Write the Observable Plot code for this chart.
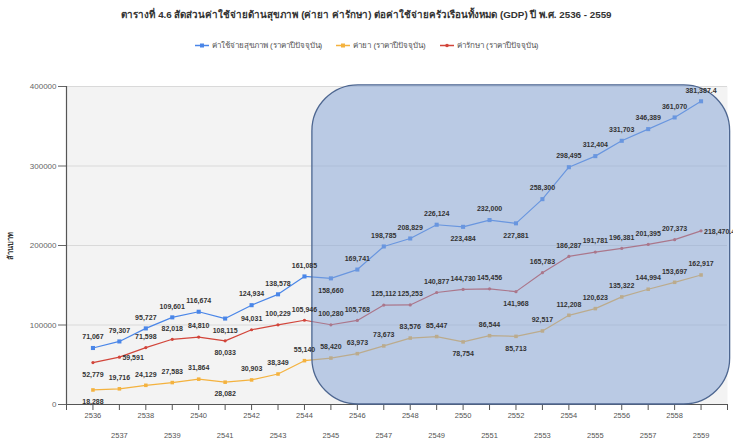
<!DOCTYPE html>
<html><head><meta charset="utf-8">
<script src="https://cdn.jsdelivr.net/npm/d3@7"></script>
<script src="https://cdn.jsdelivr.net/npm/@observablehq/plot@0.6"></script>
<style>
body{margin:0;background:#fff;font-family:"Liberation Sans",Arial,sans-serif;}
#title{height:30px;line-height:30px;text-align:center;font-weight:bold;font-size:9.8px;color:#333;white-space:nowrap;}
#legend{height:30px;display:flex;justify-content:center;align-items:center;gap:14px;font-size:8px;color:#555;}
#legend span{display:flex;align-items:center;gap:3px;}
#chart svg{display:block;}
</style></head><body>
<div id="title">ตารางที่ 4.6 สัดส่วนค่าใช้จ่ายด้านสุขภาพ (ค่ายา ค่ารักษา) ต่อค่าใช้จ่ายครัวเรือนทั้งหมด (GDP) ปี พ.ศ. 2536 - 2559</div>
<div id="legend"></div>
<div id="chart"></div>
<script>
const years = [2536,2537,2538,2539,2540,2541,2542,2543,2544,2545,2546,2547,2548,2549,2550,2551,2552,2553,2554,2555,2556,2557,2558,2559];
const totalHealth = [71067,79307,95727,109601,116674,108115,124934,138578,161085,158660,169741,198785,208829,226124,223484,232000,227881,258300,298495,312404,331703,346389,361070,381387.4];
const drugs = [18288,19716,24129,27583,31864,28082,30903,38349,55140,58420,63973,73673,83576,85447,78754,86544,85713,92517,112208,120623,135322,144994,153697,162917];
const treatment = [52779,59591,71598,82018,84810,80033,94031,100229,105946,100280,105768,125112,125253,140877,144730,145456,141968,165783,186287,191781,196381,201395,207373,218470.4];
const seriesNames = ["ค่าใช้จ่ายสุขภาพ (ราคาปีปัจจุบัน)","ค่ายา (ราคาปีปัจจุบัน)","ค่ารักษา (ราคาปีปัจจุบัน)"];
const yTicks = [0,100000,200000,300000,400000];
const evenYears = [2536,2538,2540,2542,2544,2546,2548,2550,2552,2554,2556,2558];
const oddYears = [2537,2539,2541,2543,2545,2547,2549,2551,2553,2555,2557,2559];
const yTitle = "ล้านบาท";
// highlighted region (data units)
const highlight = [{from: 2544.3, to: 2560.1, low: 0, high: 401500}];

// label placement (styling)
const below = {total:[2541,2545,2550,2552], drugs:[2536,2541,2550,2552], treat:[2536,2541,2552]};
const right = {total:[], drugs:[], treat:[2537,2559]};

const colors = {total:"#4a86e8", drugs:"#f4b23e", treat:"#d2453a"};
const series = [
  {key:"total", name:seriesNames[0], values:totalHealth, symbol:"square", r:2.3},
  {key:"drugs", name:seriesNames[1], values:drugs, symbol:"square", r:2.0},
  {key:"treat", name:seriesNames[2], values:treatment, symbol:"circle", r:1.6}
];
const fmt = d3.format(",");

const marks = [
  Plot.frame({fill:"#f3f3f3", stroke:null}),
  Plot.gridY(yTicks.slice(1), {stroke:"#d9d9d9", strokeOpacity:1}),
  Plot.axisY({ticks:yTicks, tickFormat:d=>String(d), tickSize:8, tickPadding:2, fontSize:8, color:"#666", label:null}),
  Plot.axisX({ticks:evenYears, tickFormat:d=>String(d), tickSize:6, tickPadding:2, fontSize:7.5, color:"#555", label:null}),
  Plot.axisX({ticks:oddYears, tickFormat:d=>String(d), tickSize:6, tickPadding:22, fontSize:7.5, color:"#555", label:null}),
  Plot.axisX({ticks:[2535,2560], tickFormat:()=>"", tickSize:6, color:"#555", label:null}),
  Plot.ruleX([2535], {stroke:"#555", strokeWidth:1.2}),
  Plot.ruleY([0], {stroke:"#555", strokeWidth:1.2}),
  Plot.text([yTitle], {frameAnchor:"left", dx:-56, rotate:-90, textAnchor:"middle", fontSize:7.5, fontWeight:"bold", fill:"#333"})
];
for (const s of series) {
  const data = years.map((y,i)=>({year:y, value:s.values[i]}));
  marks.push(Plot.line(data, {x:"year", y:"value", stroke:colors[s.key], strokeWidth:1.2}));
  marks.push(Plot.dot(data, {x:"year", y:"value", symbol:s.symbol, r:s.r, fill:colors[s.key], stroke:null}));
}
marks.push(Plot.rect(highlight, {x1:"from", x2:"to", y1:"low", y2:"high", fill:"#86a4d6", fillOpacity:0.52, stroke:"#4d6690", strokeWidth:1.3, rx:46, ry:46}));
for (const s of series) {
  const data = years.map((y,i)=>({year:y, value:s.values[i]}));
  const isB = d=>below[s.key].includes(d.year), isR = d=>right[s.key].includes(d.year);
  const common = {x:"year", y:"value", text:d=>fmt(d.value), fontSize:7, fontWeight:"bold", fill:"#333"};
  marks.push(Plot.text(data.filter(d=>!isB(d)&&!isR(d)), {...common, dy:-11}));
  marks.push(Plot.text(data.filter(isB), {...common, dy:12}));
  marks.push(Plot.text(data.filter(isR), {...common, dx:3, dy:1, textAnchor:"start"}));
}

const chart = Plot.plot({
  width:733, height:383,
  marginTop:26, marginBottom:39, marginLeft:66, marginRight:6,
  x:{domain:[2535,2560]},
  y:{domain:[0,400000]},
  style:{fontFamily:"Liberation Sans, Arial, sans-serif", background:"#fff", overflow:"visible"},
  marks
});
document.getElementById("chart").append(chart);

const legend = document.getElementById("legend");
for (const s of series) {
  const sp = document.createElement("span");
  const shape = s.symbol === "square" ? `<rect x="5" y="2.5" width="4" height="4" fill="${colors[s.key]}"/>` : `<circle cx="7" cy="4.5" r="1.8" fill="${colors[s.key]}"/>`;
  sp.innerHTML = `<svg width="14" height="9"><line x1="0" x2="14" y1="4.5" y2="4.5" stroke="${colors[s.key]}" stroke-width="1.5"/>${shape}</svg><span>${s.name}</span>`;
  legend.append(sp);
}
</script>
</body></html>
